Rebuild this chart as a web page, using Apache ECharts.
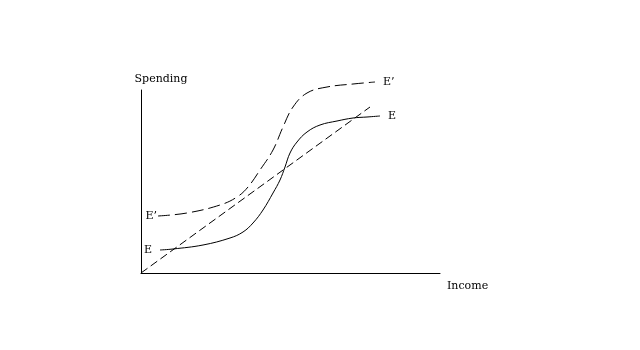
<!DOCTYPE html>
<html><head><meta charset="utf-8">
<script src="https://cdn.jsdelivr.net/npm/echarts@6/dist/echarts.min.js"></script>
<style>html,body{margin:0;padding:0;background:#fff}#c{width:640px;height:350px}</style>
</head><body><div id="c"></div>
<script>
// Values (arbitrary units: income 0..299, spending 0..183)
const eIncome = [19, 32, 62, 89, 102, 112, 122, 132, 139, 144, 149, 156, 166, 179, 196, 212, 226, 239];
const eSpending = [23, 24, 28, 35, 41, 50, 63, 80, 93, 106, 120, 131, 141, 148, 152, 155, 156, 157];
const e2Income = [17, 46, 79, 96, 107, 119, 132, 142, 152, 166, 186, 212, 234];
const e2Spending = [57, 60, 68, 76, 86, 103, 123, 146, 166, 180, 186, 189, 191];
const diagIncome = [0, 229];
const diagSpending = [0, 166];
const curveName = 'E';
const curve2Name = 'E\u2019';
const xTitle = 'Income';
const yTitle = 'Spending';

const font = 'DejaVu Serif';
function pairs(xs, ys, name, startDist, endDist) {
  return xs.map((x, i) => {
    const d = { value: [x, ys[i]] };
    if (name && i === 0) d.label = { show: true, position: 'left', distance: startDist, formatter: name };
    if (name && i === xs.length - 1) d.label = { show: true, position: 'right', distance: endDist, formatter: name };
    return d;
  });
}
const lbl = { show: false, color: '#000', fontFamily: font, fontSize: 11 };
const chart = echarts.init(document.getElementById('c'));
chart.setOption({
  animation: false,
  backgroundColor: '#fff',
  grid: { left: 141, top: 90, width: 299, height: 183 },
  xAxis: {
    type: 'value', min: 0, max: 299,
    name: xTitle, nameLocation: 'end', nameGap: 7,
    nameTextStyle: { color: '#000', fontFamily: font, fontSize: 11, verticalAlign: 'top', lineHeight: 26 },
    axisLine: { lineStyle: { color: '#000', width: 1 } },
    axisTick: { show: false }, axisLabel: { show: false }, splitLine: { show: false }
  },
  yAxis: {
    type: 'value', min: 0, max: 183,
    name: yTitle, nameLocation: 'end', nameGap: 5,
    nameTextStyle: { color: '#000', fontFamily: font, fontSize: 11, padding: [0, 0, 0, 40] },
    axisLine: { lineStyle: { color: '#000', width: 1 } },
    axisTick: { show: false }, axisLabel: { show: false }, splitLine: { show: false }
  },
  series: [
    {
      type: 'line', smooth: 0.4, symbol: 'circle', symbolSize: 0, showSymbol: true, clip: false,
      lineStyle: { color: '#000', width: 1 }, itemStyle: { color: '#000' },
      label: lbl, data: pairs(eIncome, eSpending, curveName, 8, 8)
    },
    {
      type: 'line', smooth: 0.4, symbol: 'circle', symbolSize: 0, showSymbol: true, clip: false,
      lineStyle: { color: '#000', width: 1, type: [12, 5] }, itemStyle: { color: '#000' },
      label: lbl, data: pairs(e2Income, e2Spending, curve2Name, 1, 8)
    },
    {
      type: 'line', symbol: 'none', clip: false,
      lineStyle: { color: '#000', width: 1, type: [8, 4] },
      data: pairs(diagIncome, diagSpending, null)
    }
  ]
});
</script></body></html>
